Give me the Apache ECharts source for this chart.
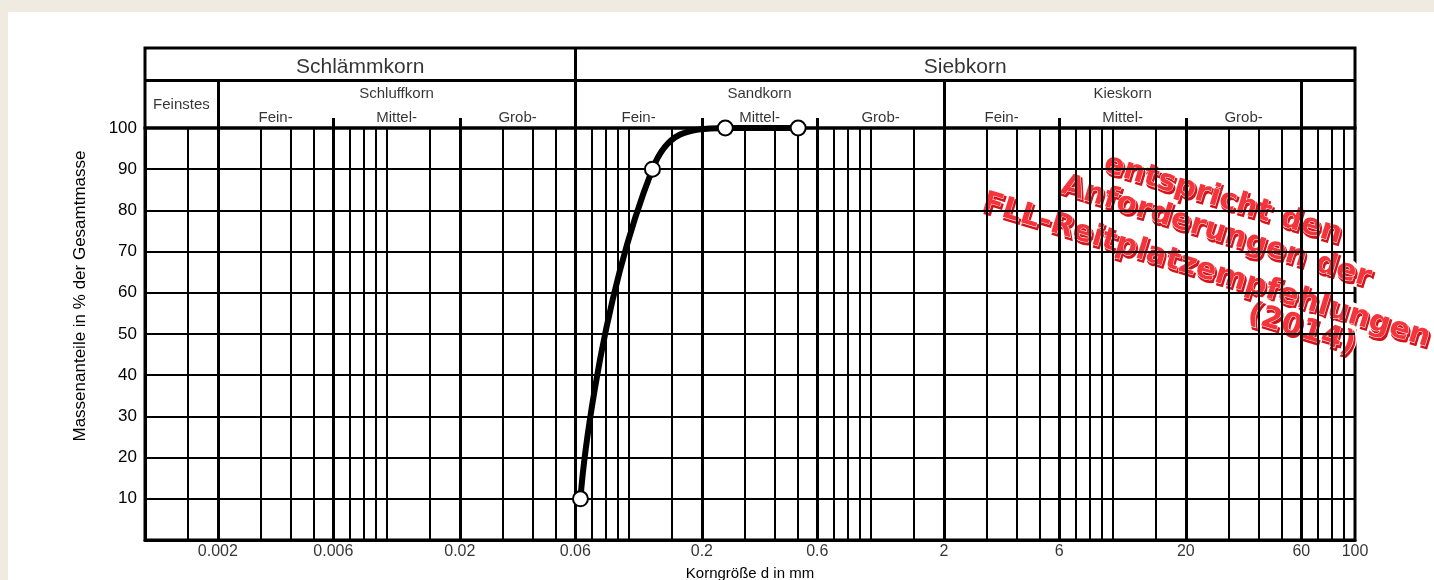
<!DOCTYPE html>
<html>
<head>
<meta charset="utf-8">
<title>Körnungslinie</title>
<script src="https://cdn.jsdelivr.net/npm/echarts@6/dist/echarts.min.js"></script>
<style>
  html, body { margin: 0; padding: 0; background: #efebe1; }
  #paper { position: absolute; left: 8px; top: 12px; width: 1426px; height: 568px; background: #fff; }
  #chart { position: absolute; left: 0; top: 0; width: 1434px; height: 580px; }
</style>
</head>
<body>
<div id="paper"></div>
<div id="chart"></div>
<script>
'use strict';

// Siebdurchgang: Korngröße in mm / Massenanteil in %
var sieveSizes = [0.063, 0.125, 0.25, 0.5];
var passing = [10, 90, 100, 100];

// Beschriftung der x-Achse
var xTickLabels = [0.002, 0.006, 0.02, 0.06, 0.2, 0.6, 2, 6, 20, 60, 100];

// senkrechte Rasterlinien (log. Papier)
var thinLines = [0.0015, 0.003, 0.004, 0.005, 0.007, 0.008, 0.009, 0.01,
    0.015, 0.03, 0.04, 0.05, 0.07, 0.08, 0.09, 0.1,
    0.15, 0.3, 0.4, 0.5, 0.7, 0.8, 0.9, 1,
    1.5, 3, 4, 5, 7, 8, 9, 10,
    15, 30, 40, 50, 70, 80, 90];
var boldLines = [0.002, 0.006, 0.02, 0.06, 0.2, 0.6, 2, 6, 20, 60];

// Kopfzeile
var mainGroupNames = ['Schlämmkorn', 'Siebkorn'];
var mainGroupBounds = [0.001, 0.06, 100];
var subGroupNames = ['Feinstes', 'Schluffkorn', 'Sandkorn', 'Kieskorn'];
var subGroupBounds = [0.001, 0.002, 0.06, 2, 60];
var fractionNames = ['Fein-', 'Mittel-', 'Grob-'];
var fractionBounds = [0.002, 0.006, 0.02, 0.06, 0.2, 0.6, 2, 6, 20, 60];
var fractionTicks = [0.006, 0.02, 0.2, 0.6, 6, 20];
var rowDividers = [0.002, 2, 60];

var stampLines = ['entspricht den', 'Anforderungen der', 'FLL-Reitplatzempfehlungen', '(2014)'];

var FONT = "'Liberation Sans', Arial, sans-serif";

var chart = echarts.init(document.getElementById('chart'));

function mid(a, b) {
    return Math.sqrt(a * b);
}

var headerTexts = [];
mainGroupNames.forEach(function (n, i) {
    headerTexts.push({ name: n, value: [mid(mainGroupBounds[i], mainGroupBounds[i + 1]), 19], label: { fontSize: 21 } });
});
subGroupNames.forEach(function (n, i) {
    var y = i === 0 ? 57 : 46;
    headerTexts.push({ name: n, value: [mid(subGroupBounds[i], subGroupBounds[i + 1]), y] });
});
for (var i = 0; i < fractionBounds.length - 1; i++) {
    headerTexts.push({ name: fractionNames[i % 3], value: [mid(fractionBounds[i], fractionBounds[i + 1]), 70] });
}

var headerLines = [
    [{ coord: [0.001, 32] }, { coord: [100, 32] }],
    [{ coord: [0.06, 0] }, { coord: [0.06, 80] }]
];
rowDividers.forEach(function (v) {
    headerLines.push([{ coord: [v, 32] }, { coord: [v, 80] }]);
});
fractionTicks.forEach(function (v) {
    headerLines.push([{ coord: [v, 70] }, { coord: [v, 80] }]);
});

var gridLines = thinLines.map(function (v) {
    return { xAxis: v };
}).concat(boldLines.map(function (v) {
    return { xAxis: v, lineStyle: { width: 3 } };
}));

// Stempel: Halo, Schatten, Schrift
var stampPos = [[-3, -33], [0, 0], [2, 40], [110, 68]];
var stampFont = "bold 30px 'DejaVu Sans'";
var stampChildren = [];
stampLines.forEach(function (t, i) {
    var x = stampPos[i][0], y = stampPos[i][1];
    stampChildren.push({
        type: 'text', x: x, y: y,
        style: { text: t, font: stampFont, fill: '#fff', stroke: '#fff', lineWidth: 8, align: 'center', verticalAlign: 'middle' }
    });
    stampChildren.push({
        type: 'text', x: x + 2, y: y + 2,
        style: { text: t, font: stampFont, fill: '#d4141c', stroke: '#d4141c', lineWidth: 2, align: 'center', verticalAlign: 'middle' }
    });
    stampChildren.push({
        type: 'text', x: x, y: y,
        style: { text: t, font: stampFont, fill: '#f5333a', stroke: '#fff', lineWidth: 1, align: 'center', verticalAlign: 'middle' }
    });
});

var option = {
    animation: false,
    backgroundColor: 'transparent',
    grid: [
        { left: 145, right: 79, top: 128, bottom: 40, show: true, borderColor: '#000', borderWidth: 3, outerBoundsMode: 'none' },
        { left: 145, right: 79, top: 48, height: 80, show: true, borderColor: '#000', borderWidth: 3, outerBoundsMode: 'none' }
    ],
    xAxis: [
        {
            type: 'log', gridIndex: 0, min: 0.001, max: 100, logBase: 10,
            name: 'Korngröße d in mm', nameLocation: 'middle', nameGap: 26,
            nameTextStyle: { fontSize: 15, color: '#000', fontFamily: FONT },
            axisLine: { lineStyle: { color: '#000', width: 3 } },
            axisTick: { show: false },
            axisLabel: { show: false },
            splitLine: { show: false }
        },
        {
            type: 'log', gridIndex: 1, min: 0.001, max: 100, logBase: 10, show: false,
            splitLine: { show: false }
        }
    ],
    yAxis: [
        {
            type: 'value', gridIndex: 0, min: 0, max: 100, interval: 10,
            name: 'Massenanteile in % der Gesamtmasse', nameLocation: 'middle', nameGap: 56,
            nameTextStyle: { fontSize: 17, color: '#000', fontFamily: FONT, padding: [0, 0, 0, 76] },
            axisLine: { show: true, lineStyle: { color: '#000', width: 3 } },
            axisTick: { show: false },
            axisLabel: {
                fontSize: 17, color: '#000', fontFamily: FONT, margin: 8,
                formatter: function (v) { return v === 0 ? '' : v; }
            },
            splitLine: { lineStyle: { color: '#000', width: 2 } }
        },
        { type: 'value', gridIndex: 1, min: 0, max: 80, inverse: true, show: false, splitLine: { show: false } }
    ],
    series: [
        {
            name: 'Raster', type: 'line', xAxisIndex: 0, yAxisIndex: 0, data: [], z: 1, silent: true,
            markLine: {
                silent: true, symbol: ['none', 'none'], label: { show: false }, precision: 6,
                lineStyle: { color: '#000', type: 'solid', width: 2 },
                emphasis: { disabled: true },
                data: gridLines
            }
        },
        {
            name: 'Körnungslinie', type: 'line', xAxisIndex: 0, yAxisIndex: 0,
            data: sieveSizes.map(function (d, i) { return [d, passing[i]]; }),
            smooth: 0.5, symbol: 'circle', symbolSize: 15, clip: false, z: 5,
            lineStyle: { color: '#000', width: 6 },
            itemStyle: { color: '#fff', borderColor: '#000', borderWidth: 2 }
        },
        {
            name: 'x-Beschriftung', type: 'scatter', xAxisIndex: 0, yAxisIndex: 0, clip: false, silent: true,
            data: xTickLabels.map(function (v) { return [v, 0]; }),
            symbolSize: 1, itemStyle: { color: 'rgba(0,0,0,0)' },
            label: {
                show: true, position: 'bottom', distance: 3, fontSize: 16, color: '#000', fontFamily: FONT,
                formatter: function (p) { return String(p.value[0]); }
            }
        },
        {
            name: 'Kopf', type: 'line', xAxisIndex: 1, yAxisIndex: 1, data: [], silent: true,
            markLine: {
                silent: true, symbol: ['none', 'none'], label: { show: false }, precision: 6,
                lineStyle: { color: '#000', type: 'solid', width: 3 },
                emphasis: { disabled: true },
                data: headerLines
            }
        },
        {
            name: 'Kopftext', type: 'scatter', xAxisIndex: 1, yAxisIndex: 1, clip: false, silent: true,
            data: headerTexts, symbolSize: 1, itemStyle: { color: 'rgba(0,0,0,0)' },
            label: { show: true, position: 'inside', formatter: '{b}', fontSize: 15, color: '#000', fontFamily: FONT }
        }
    ],
    graphic: [{
        type: 'group', x: 1216, y: 232, rotation: -17 * Math.PI / 180, z: 100,
        children: stampChildren
    }]
};

chart.setOption(option);
</script>
</body>
</html>
